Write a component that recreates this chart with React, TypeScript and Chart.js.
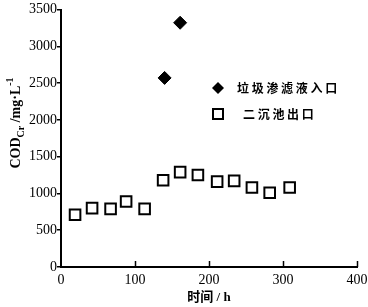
import React, { useEffect, useRef } from "react";
import { Chart, registerables } from "chart.js";

Chart.register(...registerables);

const inletLabel = "垃圾渗滤液入口";
const outletLabel = "二沉池出口";
const inletTime = [140, 161];
const inletCOD = [2570, 3320];
const outletTime = [19, 42, 67, 88, 113, 138, 161, 185, 211, 234, 258, 282, 309];
const outletCOD = [710, 800, 790, 890, 790, 1180, 1290, 1250, 1160, 1170, 1080, 1010, 1080];
const xTicks = [0, 100, 200, 300, 400];
const yTicks = [0, 500, 1000, 1500, 2000, 2500, 3000, 3500];
const xTitle = "时间 / h";

const SERIF = '"Liberation Serif", "Times New Roman", serif';

const decorPlugin = {
  id: "decor",
  afterDraw(chart: any) {
    const { ctx, chartArea, scales } = chart;
    const xs = scales.x;
    ctx.save();
    // inward x ticks
    ctx.strokeStyle = "#000";
    ctx.lineWidth = 1.5;
    xTicks.forEach((v) => {
      if (v === 0) return;
      const px = Math.round(xs.getPixelForValue(v)) + 0.5;
      ctx.beginPath();
      ctx.moveTo(px, chartArea.bottom);
      ctx.lineTo(px, chartArea.bottom - 6);
      ctx.stroke();
    });

    // y title with sub/superscript
    const parts = [
      { t: "COD", f: `bold 14px ${SERIF}`, dy: 0 },
      { t: "Cr", f: `bold 10px ${SERIF}`, dy: 4 },
      { t: " /mg·L", f: `bold 14px ${SERIF}`, dy: 0 },
      { t: "-1", f: `bold 10px ${SERIF}`, dy: -7 },
    ];
    let total = 0;
    parts.forEach((p) => {
      ctx.font = p.f;
      total += ctx.measureText(p.t).width;
    });
    const cy = 123;
    ctx.translate(20, cy);
    ctx.rotate(-Math.PI / 2);
    ctx.fillStyle = "#000";
    ctx.textBaseline = "alphabetic";
    ctx.textAlign = "left";
    let x = -total / 2;
    parts.forEach((p) => {
      ctx.font = p.f;
      ctx.fillText(p.t, x, p.dy);
      x += ctx.measureText(p.t).width;
    });
    ctx.setTransform(1, 0, 0, 1, 0, 0);

    // x title
    ctx.font = `bold 13px ${SERIF}, "Noto Sans CJK SC"`;
    ctx.textAlign = "center";
    ctx.textBaseline = "middle";
    ctx.fillText(xTitle, (chartArea.left + chartArea.right) / 2, 298);

    // legend
    const items = [
      { label: chart.data.datasets[0].label, style: "diamond", y: 88 },
      { label: chart.data.datasets[1].label, style: "square", y: 114 },
    ];
    const mx = 218;
    items.forEach((it, i) => {
      ctx.beginPath();
      if (it.style === "diamond") {
        const r = 6;
        ctx.moveTo(mx, it.y - r);
        ctx.lineTo(mx + r, it.y);
        ctx.lineTo(mx, it.y + r);
        ctx.lineTo(mx - r, it.y);
        ctx.closePath();
        ctx.fillStyle = "#000";
        ctx.fill();
      } else {
        const h = 5;
        ctx.rect(mx - h, it.y - h, 2 * h, 2 * h);
        ctx.fillStyle = "#fff";
        ctx.fill();
        ctx.lineWidth = 2;
        ctx.strokeStyle = "#000";
        ctx.stroke();
      }
      ctx.fillStyle = "#000";
      ctx.font = `bold 12px "Noto Sans CJK SC"`;
      (ctx as any).letterSpacing = "2.7px";
      ctx.textAlign = "left";
      ctx.textBaseline = "middle";
      ctx.fillText(it.label, i === 0 ? 237 : 243, it.y);
      (ctx as any).letterSpacing = "0px";
    });
    ctx.restore();
  },
};

export default function App() {
  const ref = useRef<HTMLCanvasElement | null>(null);
  useEffect(() => {
    if (!ref.current) return;
    const chart = new Chart(ref.current, {
      type: "scatter",
      data: {
        datasets: [
          {
            label: inletLabel,
            data: inletTime.map((t, i) => ({ x: t, y: inletCOD[i] })),
            pointStyle: "rectRot",
            pointRadius: 6.5,
            backgroundColor: "#000",
            borderColor: "#000",
            borderWidth: 1,
          },
          {
            label: outletLabel,
            data: outletTime.map((t, i) => ({ x: t, y: outletCOD[i] })),
            pointStyle: "rect",
            pointRadius: 7.5,
            backgroundColor: "#fff",
            borderColor: "#000",
            borderWidth: 2,
          },
        ],
      },
      options: {
        animation: false,
        responsive: false,
        devicePixelRatio: 1,
        layout: { padding: { top: 5, right: 11, left: 0, bottom: 0 } },
        plugins: {
          legend: { display: false },
          tooltip: { enabled: false },
        },
        scales: {
          x: {
            type: "linear",
            min: 0,
            max: 400,
            afterBuildTicks: (s: any) => {
              s.ticks = xTicks.map((v) => ({ value: v }));
            },
            afterFit: (s: any) => {
              s.height = 40;
              s.paddingLeft = 0;
              s.paddingRight = 0;
            },
            grid: { display: false, drawTicks: false },
            border: { display: true, color: "#000", width: 2 },
            ticks: {
              color: "#000",
              font: { family: SERIF, size: 14 },
              padding: 5,
              maxRotation: 0,
              callback: (v: any) => String(v),
            },
          },
          y: {
            type: "linear",
            min: 0,
            max: 3500,
            afterBuildTicks: (s: any) => {
              s.ticks = yTicks.map((v) => ({ value: v }));
            },
            afterFit: (s: any) => {
              s.width = 61;
              s.paddingTop = 0;
              s.paddingBottom = 0;
            },
            grid: {
              display: true,
              drawOnChartArea: false,
              drawTicks: true,
              tickLength: 4,
              color: "#000",
              lineWidth: 1.5,
            },
            border: { display: true, color: "#000", width: 2 },
            ticks: {
              color: "#000",
              font: { family: SERIF, size: 14 },
              padding: 0,
              callback: (v: any) => String(v),
            },
          },
        },
      },
      plugins: [decorPlugin],
    });
    return () => chart.destroy();
  }, []);
  return (
    <div style={{ position: "fixed", left: 0, top: 0, width: 368, height: 307, background: "#fff" }}>
      <canvas ref={ref} width={368} height={307} style={{ display: "block" }} />
    </div>
  );
}
